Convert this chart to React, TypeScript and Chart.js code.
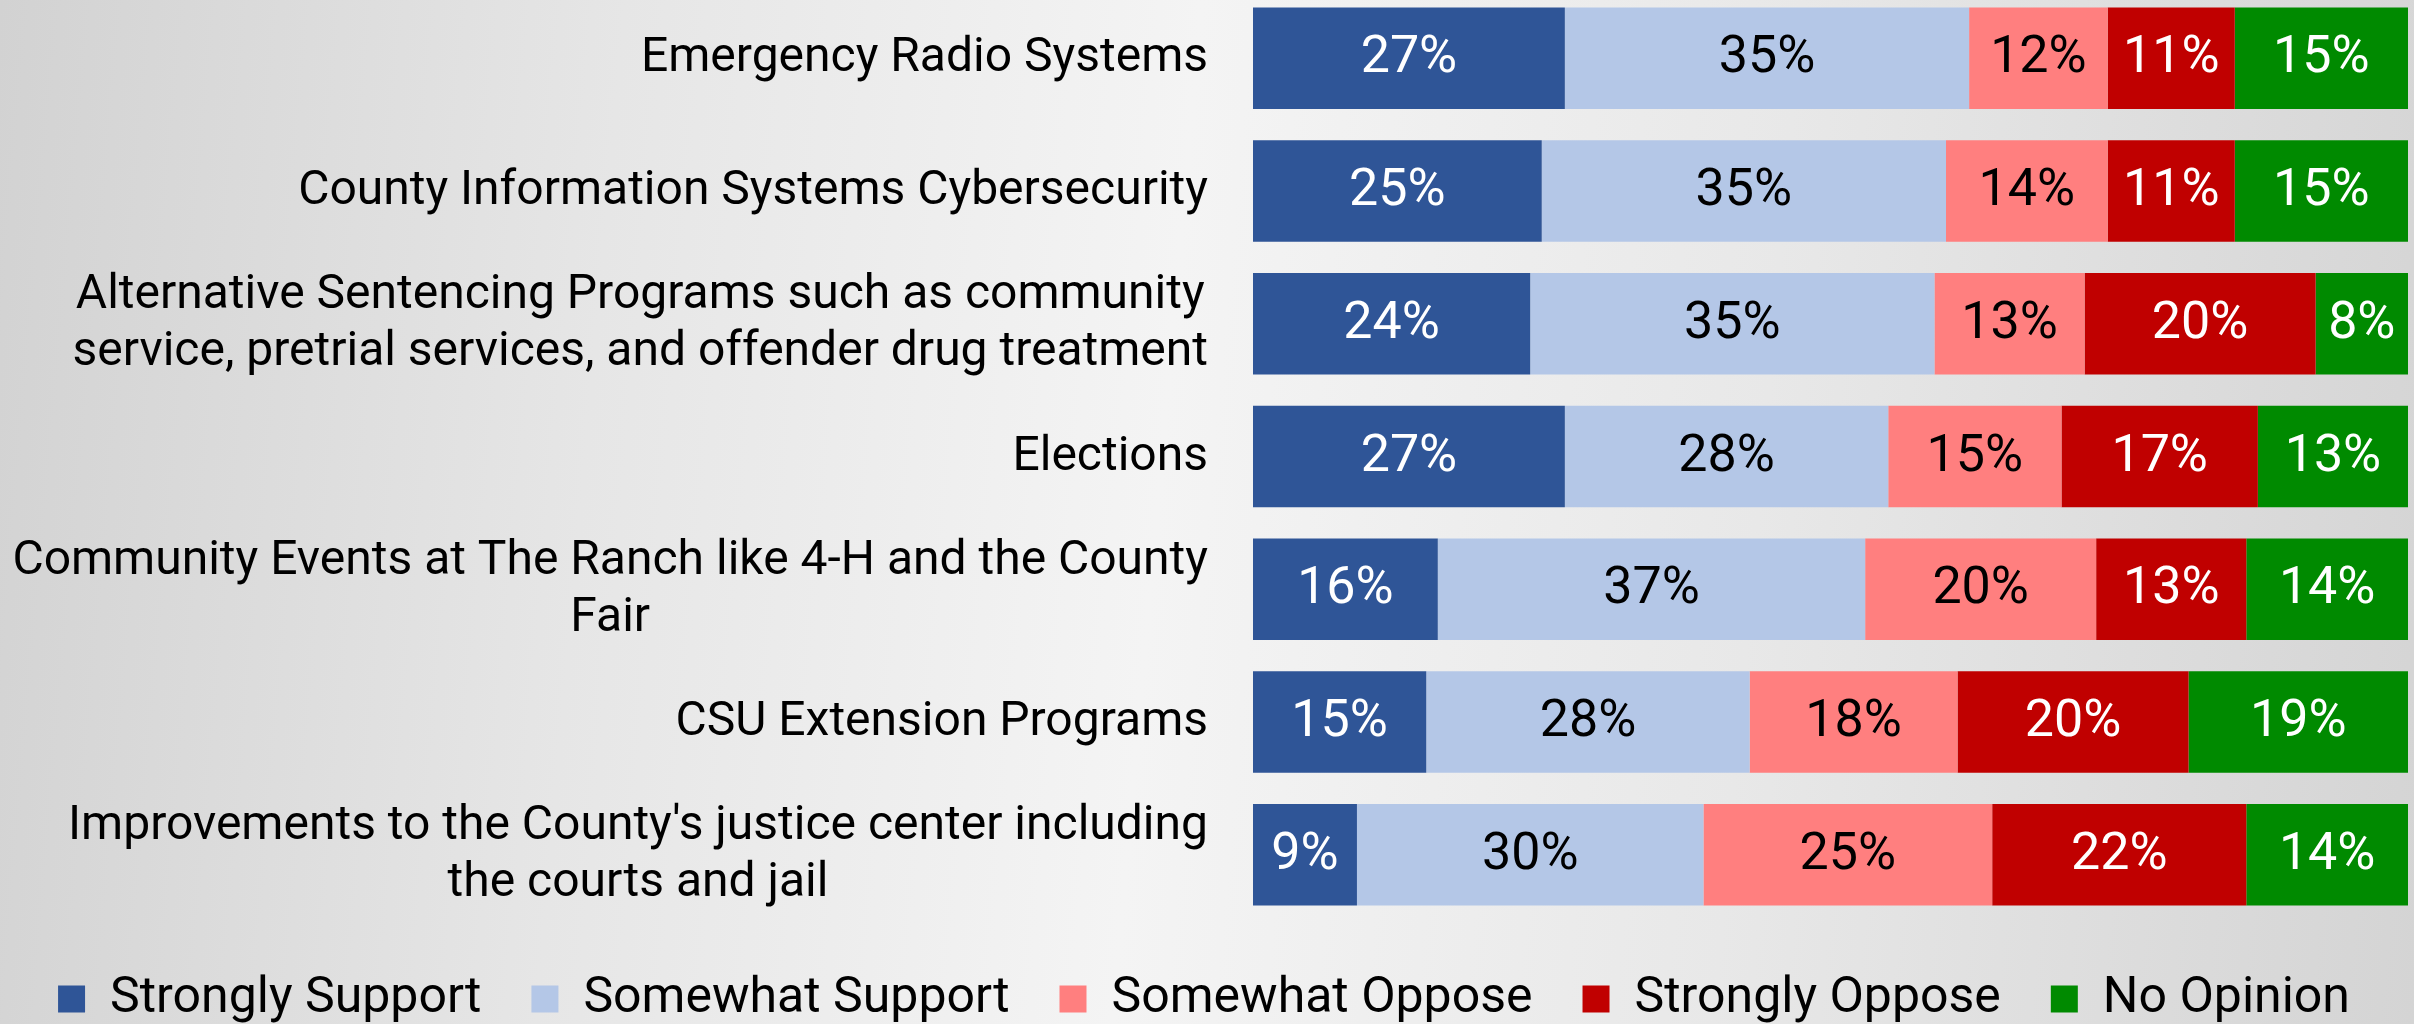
import React, { useEffect, useRef } from "react";
import { Chart, registerables } from "chart.js";

Chart.register(...registerables);

// ---------- data ----------
const categories: string[][] = [
  ["Emergency Radio Systems"],
  ["County Information Systems Cybersecurity"],
  ["Alternative Sentencing Programs such as community", "service, pretrial services, and offender drug treatment"],
  ["Elections"],
  ["Community Events at The Ranch like 4-H and the County", "Fair"],
  ["CSU Extension Programs"],
  ["Improvements to the County's justice center including", "the courts and jail"],
];
const seriesNames = ["Strongly Support", "Somewhat Support", "Somewhat Oppose", "Strongly Oppose", "No Opinion"];
const stronglySupport = [27, 25, 24, 27, 16, 15, 9];
const somewhatSupport = [35, 35, 35, 28, 37, 28, 30];
const somewhatOppose = [12, 14, 13, 15, 20, 18, 25];
const stronglyOppose = [11, 11, 20, 17, 13, 20, 22];
const noOpinion = [15, 15, 8, 13, 14, 19, 14];
const seriesValues = [stronglySupport, somewhatSupport, somewhatOppose, stronglyOppose, noOpinion];
const seriesColors = ["#2F5597", "#B4C7E7", "#FF7F7F", "#C00000", "#008A00"];
const valueLabelColors = ["#FFFFFF", "#000000", "#000000", "#FFFFFF", "#FFFFFF"];

const FONT = "Roboto";

const categoryLabelPlugin = {
  id: "categoryLabels",
  afterDraw(chart: any) {
    const { ctx, chartArea } = chart;
    const yScale = chart.scales.y;
    ctx.save();
    ctx.font = `48px ${FONT}`;
    ctx.fillStyle = "#000000";
    ctx.textAlign = "center";
    ctx.textBaseline = "middle";
    const lineH = 57;
    const right = chartArea.left - 45;
    categories.forEach((lines, i) => {
      const yc = yScale.getPixelForValue(i);
      const maxW = Math.max(...lines.map((l) => ctx.measureText(l).width));
      const cx = right - maxW / 2;
      lines.forEach((l, j) => {
        ctx.fillText(l, cx, yc + 1 + (j - (lines.length - 1) / 2) * lineH);
      });
    });
    ctx.restore();
  },
};

const valueLabelPlugin = {
  id: "valueLabels",
  afterDatasetsDraw(chart: any) {
    const { ctx } = chart;
    ctx.save();
    ctx.font = `52px ${FONT}`;
    ctx.textAlign = "center";
    ctx.textBaseline = "middle";
    chart.data.datasets.forEach((ds: any, di: number) => {
      const meta = chart.getDatasetMeta(di);
      ctx.fillStyle = valueLabelColors[di];
      meta.data.forEach((bar: any, i: number) => {
        const { x, y, base } = bar.getProps(["x", "y", "base"], true);
        ctx.fillText(`${ds.data[i]}%`, (x + base) / 2, y + 1);
      });
    });
    ctx.restore();
  },
};

export default function App() {
  const canvasRef = useRef<HTMLCanvasElement | null>(null);

  useEffect(() => {
    const canvas = canvasRef.current;
    if (!canvas) return;
    const chart = new Chart(canvas, {
      type: "bar",
      data: {
        labels: categories.map((c) => c.join(" ")),
        datasets: seriesNames.map((name, i) => ({
          label: name,
          data: seriesValues[i],
          backgroundColor: seriesColors[i],
          borderWidth: 0,
          barPercentage: 1,
          categoryPercentage: 0.765,
        })),
      },
      options: {
        indexAxis: "y",
        animation: false,
        responsive: false,
        maintainAspectRatio: false,
        layout: { padding: { left: 0, right: 6, top: 0, bottom: 0 } },
        scales: {
          x: {
            stacked: true,
            min: 0,
            max: 100,
            display: true,
            ticks: { display: false },
            grid: { display: false },
            border: { display: false },
            afterFit: (scale: any) => {
              scale.height = 3;
            },
          },
          y: {
            stacked: true,
            display: true,
            ticks: { display: false },
            grid: { display: false },
            border: { display: false },
            afterFit: (scale: any) => {
              scale.width = 1253;
            },
          },
        },
        plugins: {
          tooltip: { enabled: false },
          legend: {
            display: true,
            position: "bottom",
            labels: {
              boxWidth: 27,
              boxHeight: 27,
              padding: 50,
              color: "#000000",
              font: { family: FONT, size: 50 },
            },
          },
        },
      },
      plugins: [categoryLabelPlugin, valueLabelPlugin],
    });
    return () => chart.destroy();
  }, []);

  return (
    <div
      style={{
        position: "absolute",
        left: 0,
        top: 0,
        width: 2414,
        height: 1024,
        overflow: "hidden",
        background:
          "linear-gradient(95deg, #d2d2d2 0%, #e6e6e6 25%, #f4f4f4 48%, #e8e8e8 72%, #d4d4d4 100%)",
      }}
    >
      <canvas
        ref={canvasRef}
        width={2414}
        height={1042}
        style={{ position: "absolute", left: 0, top: -8, display: "block", width: 2414, height: 1042 }}
      />
    </div>
  );
}
